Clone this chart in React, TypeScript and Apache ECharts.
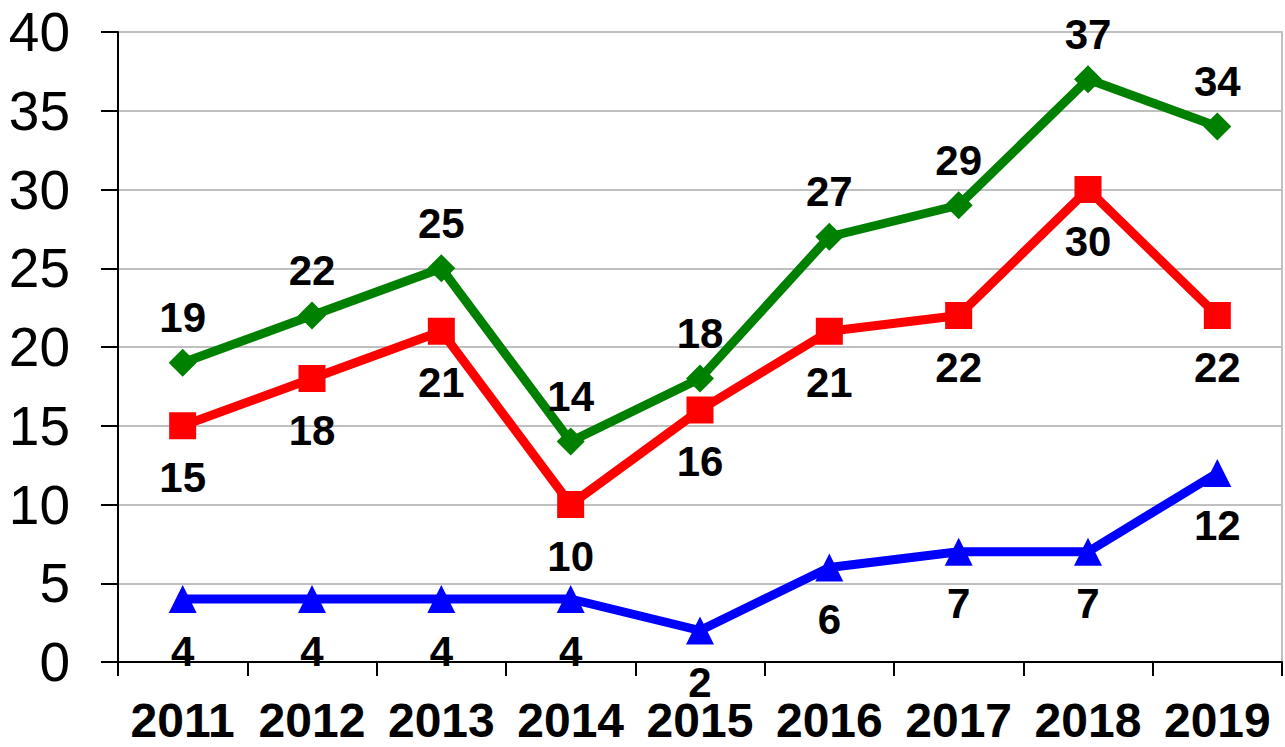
import React, { useEffect, useRef } from "react";
import * as echarts from "echarts";

const categories = ["2011", "2012", "2013", "2014", "2015", "2016", "2017", "2018", "2019"];
const greenValues = [19, 22, 25, 14, 18, 27, 29, 37, 34];
const redValues = [15, 18, 21, 10, 16, 21, 22, 30, 22];
const blueValues = [4, 4, 4, 4, 2, 6, 7, 7, 12];
const yTicks = { min: 0, max: 40, interval: 5 };

const FONT = "'Liberation Sans', Arial, sans-serif";

export default function App() {
  const ref = useRef<HTMLDivElement>(null);
  useEffect(() => {
    const chart = echarts.init(ref.current!, null, { renderer: "svg" });
    const labelStyle = {
      show: true,
      fontFamily: FONT,
      fontSize: 42,
      fontWeight: "bold" as const,
      color: "#000",
    };
    chart.setOption({
      animation: false,
      backgroundColor: "#fff",
      grid: {
        left: 118,
        right: 3,
        top: 32,
        bottom: 85,
        show: true,
        borderColor: "#c0c0c0",
        borderWidth: 2,
        containLabel: false,
      },
      xAxis: {
        type: "category",
        data: categories,
        boundaryGap: true,
        axisLine: { lineStyle: { color: "#000", width: 2 } },
        axisTick: { show: true, length: 14, lineStyle: { color: "#000", width: 2 } },
        axisLabel: {
          fontFamily: FONT,
          fontSize: 48,
          fontWeight: "bold",
          color: "#000",
          margin: 34,
          interval: 0,
        },
        splitLine: { show: false },
      },
      yAxis: {
        type: "value",
        min: yTicks.min,
        max: yTicks.max,
        interval: yTicks.interval,
        axisLine: { show: true, lineStyle: { color: "#000", width: 2 } },
        axisTick: { show: true, length: 17, lineStyle: { color: "#000", width: 2 } },
        axisLabel: {
          fontFamily: FONT,
          fontSize: 55,
          color: "#000",
          margin: 48,
        },
        splitLine: { show: true, lineStyle: { color: "#c0c0c0", width: 2 } },
      },
      series: [
        {
          name: "green",
          type: "line",
          data: greenValues,
          color: "#008000",
          lineStyle: { width: 9, color: "#008000" },
          symbol: "diamond",
          symbolSize: 28,
          itemStyle: { color: "#008000" },
          label: { ...labelStyle, position: "top", distance: 10 },
          z: 3,
        },
        {
          name: "red",
          type: "line",
          data: redValues,
          color: "#ff0000",
          lineStyle: { width: 9, color: "#ff0000" },
          symbol: "rect",
          symbolSize: 27,
          itemStyle: { color: "#ff0000" },
          label: { ...labelStyle, position: "bottom", distance: 17 },
          z: 2,
        },
        {
          name: "blue",
          type: "line",
          data: blueValues,
          color: "#0000ff",
          lineStyle: { width: 9, color: "#0000ff" },
          symbol: "triangle",
          symbolSize: 28,
          itemStyle: { color: "#0000ff" },
          label: { ...labelStyle, position: "bottom", distance: 17 },
          z: 1,
        },
      ],
    });
    return () => chart.dispose();
  }, []);
  return <div ref={ref} style={{ width: 1285, height: 747, position: "absolute", left: 0, top: 0 }} />;
}
